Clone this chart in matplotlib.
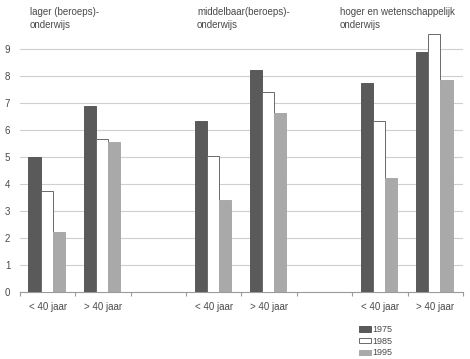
import matplotlib
matplotlib.use("Agg")
import matplotlib.pyplot as plt
import numpy as np

plt.rcParams['font.family'] = ['Liberation Sans', 'DejaVu Sans']

groups = ["lager (beroeps)-\nonderwijs", "middelbaar(beroeps)-\nonderwijs", "hoger en wetenschappelijk\nonderwijs"]
ages = ["< 40 jaar", "> 40 jaar"]
years = ["1975", "1985", "1995"]
# values per year, order: lager<40, lager>40, mid<40, mid>40, hoger<40, hoger>40
v1975 = [5.0, 6.91, 6.34, 8.22, 7.74, 8.89]
v1985 = [3.74, 5.68, 5.04, 7.41, 6.34, 9.55]
v1995 = [2.23, 5.56, 3.42, 6.63, 4.23, 7.85]
series = [v1975, v1985, v1995]
yticks = list(range(0, 10))

face = ["#5a5a5a", "#ffffff", "#a9a9a9"]
edge = ["#5a5a5a", "#6a6a6a", "#a9a9a9"]
txt = "#4a4a4a"

fig = plt.figure(figsize=(4.70, 3.59), dpi=100)
ax = fig.add_axes([20/470, 66.7/359, 443/470, 264.6/359])

slots = [0, 1, 3, 4, 6, 7]
bw = 0.22
for k, vals in enumerate(series):
    x = np.array(slots) + 0.5 - 0.018 + (k - 1) * bw
    ax.bar(x, vals, width=bw, color=face[k], edgecolor=edge[k], linewidth=0.7,
           label=years[k], zorder=3)

ax.set_xlim(0, 8)
ax.set_ylim(0, 9.8)
ax.set_yticks(yticks)
ax.yaxis.grid(True, color="#cfcfcf", linewidth=0.8, zorder=0)
ax.tick_params(axis='y', length=0, labelsize=7, colors=txt, pad=7)
for s in ["top", "right", "left"]:
    ax.spines[s].set_visible(False)
ax.spines["bottom"].set_color("#9a9a9a")
ax.spines["bottom"].set_linewidth(0.8)
ax.set_xticks(range(0, 9))
ax.set_xticklabels([])
ax.tick_params(axis='x', length=3, color="#9a9a9a", direction='out')
for i, s in enumerate(slots):
    ax.text(s + 0.5, -0.35, ages[i % 2], ha='center', va='top', fontsize=7, color=txt)

title_x = [30, 197, 340]
for gx, g in zip(title_x, groups):
    fig.text(gx/470, 1 - 7/359, g, ha='left', va='top', fontsize=7, color=txt, linespacing=1.35)

leg = fig.legend(loc='upper left', bbox_to_anchor=(359/470, 1 - 325/359), frameon=False,
                 fontsize=6.5, handlelength=1.3, handleheight=0.55, handletextpad=0.15,
                 labelspacing=0.3, borderpad=0, borderaxespad=0)
for t in leg.get_texts():
    t.set_color(txt)

fig.savefig("out.png", dpi=100)
